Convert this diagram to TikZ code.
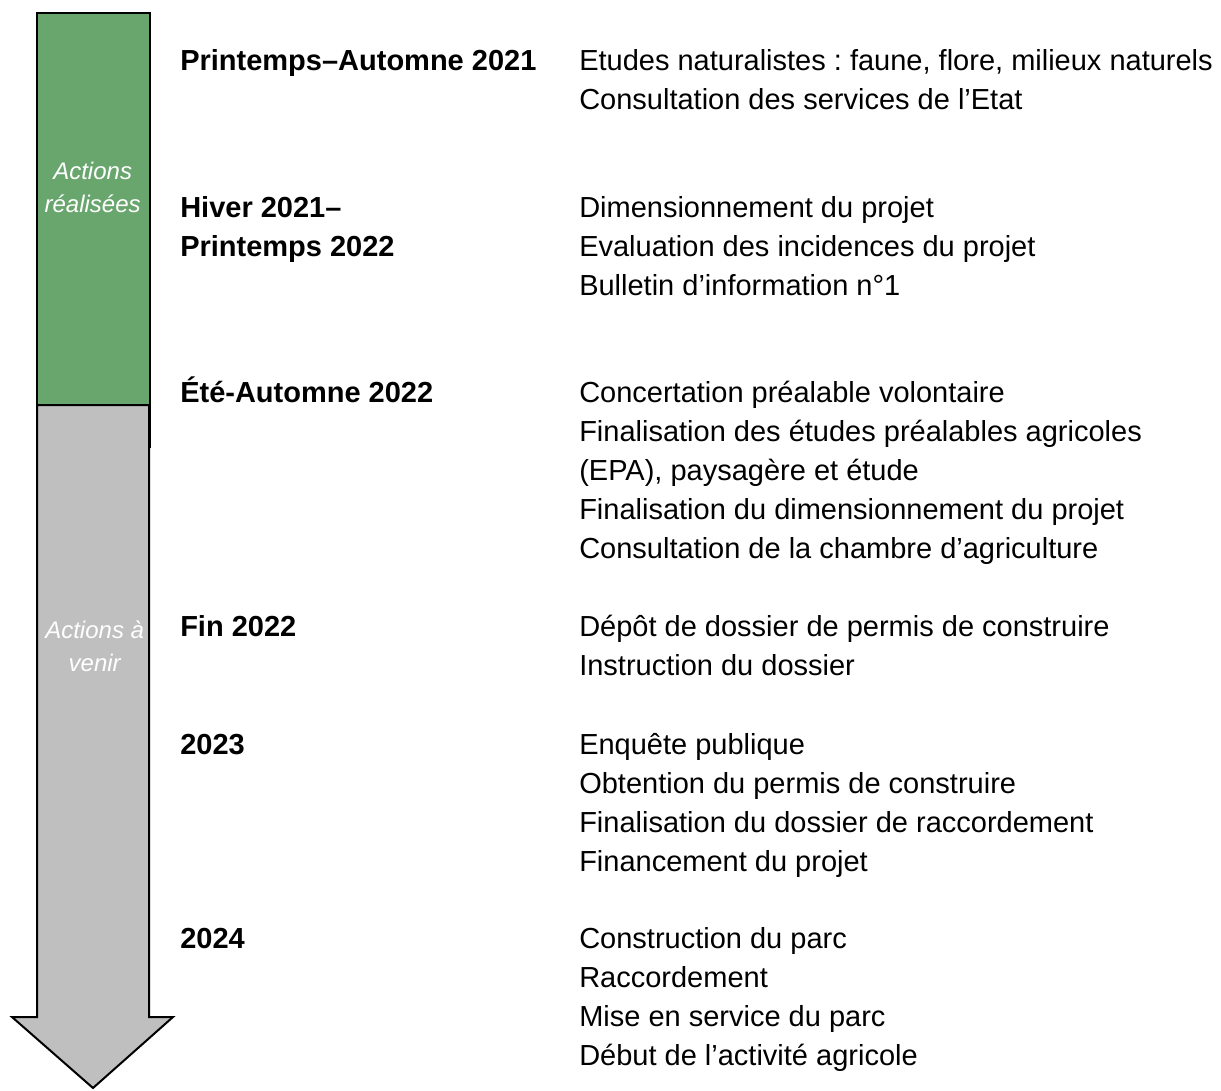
\documentclass[tikz,border=0pt]{standalone}
\usepackage{fontspec}
\setmainfont{Liberation Sans}
\frenchspacing
\definecolor{donegreen}{RGB}{104,166,110}
\definecolor{todogray}{RGB}{191,191,191}

\begin{document}
\begin{tikzpicture}
            [every node/.style={inner sep=0pt},
             period/.style={anchor=base west, align=left, font=\fontsize{21.75pt}{29.25pt}\selectfont\bfseries},
             task/.style={anchor=base west, align=left, font=\fontsize{21.75pt}{29.25pt}\selectfont},
             phase/.style={anchor=base, align=center, text=white, font=\fontsize{18pt}{24.75pt}\selectfont\itshape}]
                \useasboundingbox (0pt, 0pt) rectangle (915.75pt, -817.5pt);
                \draw [line width=1.5pt, fill=todogray] (27.75pt, -303.75pt) -- (111.75pt, -303.75pt) -- (111.75pt, -762.75pt) -- (129.75pt, -762.75pt) -- (69.75pt, -816pt) -- (9pt, -762.75pt) -- (27.75pt, -762.75pt) -- cycle;
                \draw [line width=2pt, fill=donegreen] (27.75pt, -9.75pt) rectangle (112.5pt, -303.75pt);
                \draw [line width=2pt] (112.5pt, -303.75pt) -- (112.5pt, -336pt);
                % multi-line nodes sit on the baseline of their last line
                \node (done) [phase] at (69.5pt, -159.5pt) {Actions\\réalisées};
                \node (todo) [phase] at (71pt, -503.5pt) {Actions à\\venir};
                \node (p1) [period] at (135pt, -52.5pt) {Printemps–Automne 2021};
                \node (p2) [period] at (135pt, -192.25pt) {Hiver 2021–\\Printemps 2022};
                \node (p3) [period] at (135pt, -301.75pt) {Été-Automne 2022};
                \node (p4) [period] at (135pt, -477.5pt) {Fin 2022};
                \node (p5) [period] at (135pt, -565.5pt) {2023};
                \node (p6) [period] at (135pt, -711pt) {2024};
                \node (t1) [task] at (434.25pt, -81.75pt) {Etudes naturalistes : faune, flore, milieux naturels\\Consultation des services de l’Etat};
                \node (t2) [task] at (434.25pt, -221.5pt) {Dimensionnement du projet\\Evaluation des incidences du projet\\Bulletin d’information n°1};
                \node (t3) [task] at (434.25pt, -418.75pt) {Concertation préalable volontaire\\Finalisation des études préalables agricoles\\(EPA), paysagère et étude\\Finalisation du dimensionnement du projet\\Consultation de la chambre d’agriculture};
                \node (t4) [task] at (434.25pt, -506.75pt) {Dépôt de dossier de permis de construire\\Instruction du dossier};
                \node (t5) [task] at (434.25pt, -653.25pt) {Enquête publique\\Obtention du permis de construire\\Finalisation du dossier de raccordement\\Financement du projet};
                \node (t6) [task] at (434.25pt, -798.75pt) {Construction du parc\\Raccordement\\Mise en service du parc\\Début de l’activité agricole};
            \end{tikzpicture}
\end{document}
